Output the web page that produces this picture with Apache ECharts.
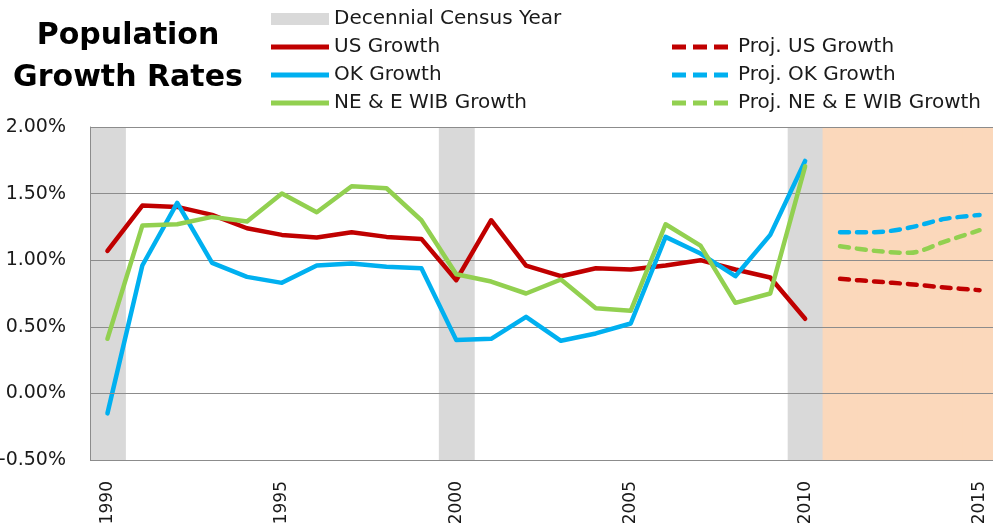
<!DOCTYPE html>
<html>
<head>
<meta charset="utf-8">
<title>Population Growth Rates</title>
<script src="https://cdn.jsdelivr.net/npm/echarts@6/dist/echarts.min.js"></script>
<style>
  html, body { margin: 0; padding: 0; background: #fff; }
  #chart { width: 993px; height: 531px; }
</style>
</head>
<body>
<div id="chart"></div>
<script>
// years on the category axis
const years = ['1990', '1991', '1992', '1993', '1994', '1995', '1996', '1997', '1998', '1999',
  '2000', '2001', '2002', '2003', '2004', '2005', '2006', '2007', '2008', '2009',
  '2010', '2011', '2012', '2013', '2014', '2015']
const censusYears = ['1990', '2000', '2010']
const projYears = ['2011', '2012', '2013', '2014', '2015']

// growth rates in %, 1990 - 2010
const usGrowth = [1.07, 1.41, 1.40, 1.34, 1.24, 1.19, 1.17, 1.21, 1.175, 1.16,
  0.85, 1.30, 0.96, 0.88, 0.94, 0.93, 0.96, 1.00, 0.93, 0.87, 0.56]
const okGrowth = [-0.15, 0.96, 1.43, 0.98, 0.875, 0.83, 0.96, 0.975, 0.95, 0.94,
  0.40, 0.41, 0.575, 0.395, 0.45, 0.525, 1.175, 1.05, 0.88, 1.19, 1.745]
const neGrowth = [0.41, 1.26, 1.27, 1.325, 1.29, 1.50, 1.36, 1.555, 1.54, 1.30,
  0.895, 0.84, 0.75, 0.855, 0.64, 0.62, 1.27, 1.11, 0.68, 0.75, 1.705]

// projections, 2011 - 2015
const projUs = [0.86, 0.84, 0.82, 0.795, 0.775]
const projOk = [1.21, 1.21, 1.245, 1.31, 1.34]
const projNe = [1.105, 1.07, 1.055, 1.14, 1.225]

const yMin = -0.5
const yMax = 2.0

const font = "'DejaVu Sans', sans-serif"
const textColor = '#1a1a1a'
const gridColor = '#8c8c8c'

// legend swatches: a thick bar and a row of dashes
const solidIcon = 'path://M0,0h56v5h-56z'
const dashIcon = 'path://M0,0h14v5h-14zM21,0h14v5h-14zM42,0h14v5h-14z'

// pad series out to the full axis
const pastPad = new Array(years.length - usGrowth.length).fill(null)
const projPad = new Array(years.length - projUs.length).fill(null)
const actual = arr => arr.concat(pastPad)
const projected = arr => projPad.concat(arr)

const chart = echarts.init(document.getElementById('chart'))

function lineSeries(name, data, color, dashed) {
  return {
    name: name,
    type: 'line',
    data: data,
    z: 4,
    symbol: 'none',
    smooth: dashed ? 0.3 : false,
    lineStyle: {
      color: color,
      width: 4.5,
      type: dashed ? [9, 8] : 'solid',
      cap: 'round',
      join: 'round'
    },
    itemStyle: { color: color }
  }
}

// full-height shaded band behind a set of years
function bandSeries(name, list, color) {
  return {
    name: name,
    type: 'custom',
    z: 1,
    silent: true,
    data: list.map(y => [y]),
    encode: { x: 0 },
    itemStyle: { color: color },
    renderItem: function(params, api) {
      const top = api.coord([api.value(0), yMax])
      const bottom = api.coord([api.value(0), yMin])
      const w = api.size([1, 0])[0]
      return {
        type: 'rect',
        shape: { x: top[0] - w / 2, y: top[1], width: w + 1, height: bottom[1] - top[1] },
        style: { fill: color }
      }
    }
  }
}

const legendText = { fontSize: 20, color: textColor, fontFamily: font }

chart.setOption({
  animation: false,
  textStyle: { fontFamily: font },
  graphic: [{
    type: 'text',
    x: 128,
    y: 15,
    style: {
      text: 'Population\nGrowth Rates',
      font: 'bold 30px ' + font,
      fill: '#000',
      align: 'center',
      lineHeight: 42
    }
  }],
  legend: [{
    orient: 'vertical',
    left: 266,
    top: 4,
    itemWidth: 58,
    itemHeight: 12,
    itemGap: 8,
    selectedMode: false,
    symbolKeepAspect: true,
    textStyle: legendText,
    data: [
      { name: 'Decennial Census Year', icon: 'rect' },
      { name: 'US Growth', icon: solidIcon },
      { name: 'OK Growth', icon: solidIcon },
      { name: 'NE & E WIB Growth', icon: solidIcon }
    ]
  }, {
    orient: 'vertical',
    left: 667,
    top: 32,
    itemWidth: 56,
    itemHeight: 12,
    itemGap: 8,
    selectedMode: false,
    symbolKeepAspect: true,
    textStyle: Object.assign({ padding: [0, 0, 0, 5] }, legendText),
    data: [
      { name: 'Proj. US Growth', icon: dashIcon },
      { name: 'Proj. OK Growth', icon: dashIcon },
      { name: 'Proj. NE & E WIB Growth', icon: dashIcon }
    ]
  }],
  grid: {
    left: 90,
    top: 127,
    width: 907,
    height: 333,
    outerBoundsMode: 'none'
  },
  xAxis: {
    type: 'category',
    data: years,
    boundaryGap: true,
    axisLine: { show: false },
    axisTick: { show: false },
    axisLabel: {
      interval: 4,
      rotate: 90,
      margin: 21,
      fontSize: 17,
      color: textColor,
      fontFamily: font
    }
  },
  yAxis: {
    type: 'value',
    min: yMin,
    max: yMax,
    interval: 0.5,
    z: 3,
    axisLine: { show: true, lineStyle: { color: gridColor, width: 1 } },
    axisTick: { show: false },
    axisLabel: {
      margin: 24,
      fontSize: 19,
      color: textColor,
      fontFamily: font,
      formatter: v => v.toFixed(2) + '%'
    },
    splitLine: { lineStyle: { color: gridColor, width: 1 } }
  },
  series: [
    bandSeries('Decennial Census Year', censusYears, '#d9d9d9'),
    bandSeries('Projection Period', projYears, '#fbd8bb'),
    {
      // zero line drawn over the shaded bands
      name: 'zero',
      type: 'line',
      data: [],
      z: 2,
      markLine: {
        silent: true,
        symbol: 'none',
        label: { show: false },
        lineStyle: { color: gridColor, width: 1, type: 'solid' },
        data: [{ yAxis: 0 }]
      }
    },
    lineSeries('US Growth', actual(usGrowth), '#c00000', false),
    lineSeries('OK Growth', actual(okGrowth), '#00b0f0', false),
    lineSeries('NE & E WIB Growth', actual(neGrowth), '#92d050', false),
    lineSeries('Proj. US Growth', projected(projUs), '#c00000', true),
    lineSeries('Proj. OK Growth', projected(projOk), '#00b0f0', true),
    lineSeries('Proj. NE & E WIB Growth', projected(projNe), '#92d050', true)
  ]
})
</script>
</body>
</html>
